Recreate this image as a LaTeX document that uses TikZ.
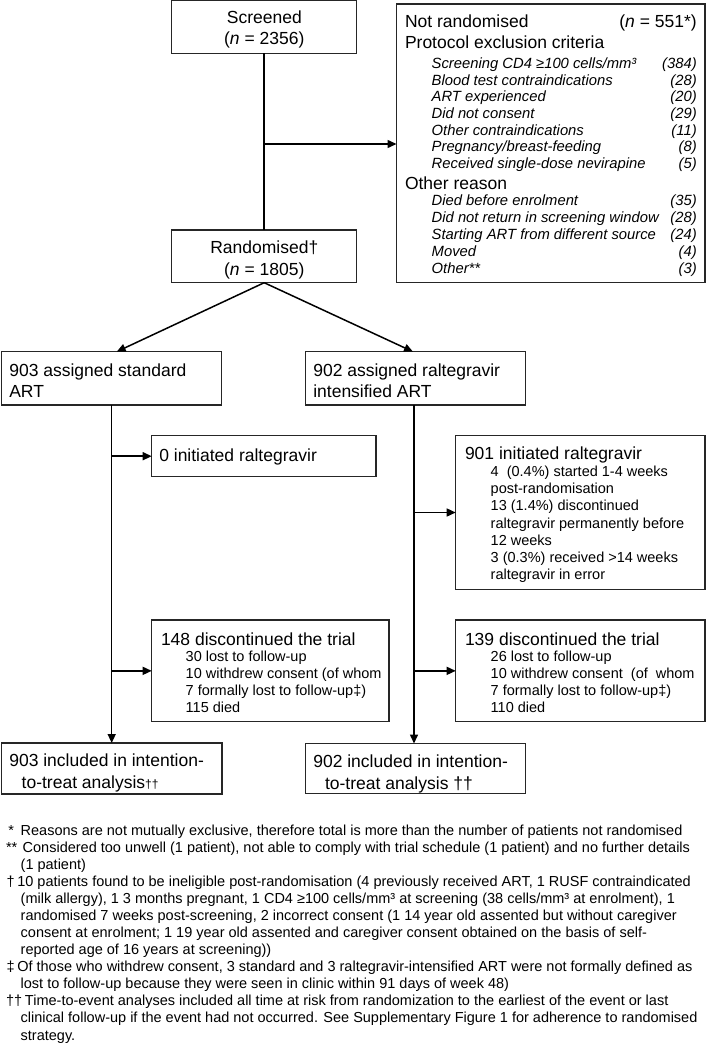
\documentclass[tikz,border=0pt]{standalone}
\usepackage{fontspec}
\setmainfont{Liberation Sans}
\usetikzlibrary{arrows.meta}
\newcommand\hdf{\fontsize{17.5}{21}\selectfont}
\newcommand\itf{\fontsize{14.8}{17}\selectfont\itshape}
\newcommand\sbf{\fontsize{14.5}{17}\selectfont}
\newcommand\ntf{\fontsize{14.5}{17}\selectfont}
\tikzset{
  box/.style={draw=black!85, line width=1.1pt, inner sep=0pt, outer sep=0pt, anchor=north west},
  txt/.style={inner sep=0pt, outer sep=0pt, anchor=base west},
  ln/.style={line width=1.5pt},
  arr/.style={line width=1.5pt, -{Triangle[length=9pt,width=8pt]}}
}
\begin{document}
\begin{tikzpicture}[x=1pt,y=-1pt]
\fill[white] (0,0) rectangle (706,1046);
\useasboundingbox (0,0) rectangle (706,1046);
% boxes
\node[box, minimum width=185pt, minimum height=52.6pt] (scr) at (171.7,0.7) {};
\node[box, minimum width=308.5pt, minimum height=278.7pt] (nr) at (396.5,4) {};
\node[box, minimum width=185pt, minimum height=52.7pt] (rnd) at (171.7,230) {};
\node[box, minimum width=219.8pt, minimum height=53.3pt] (asl) at (1.7,351.7) {};
\node[box, minimum width=219.8pt, minimum height=53.3pt] (asr) at (305.5,351.7) {};
\node[box, minimum width=224.3pt, minimum height=41pt] (zero) at (151.7,435.7) {};
\node[box, minimum width=249.3pt, minimum height=153.6pt] (ini) at (455.7,435.7) {};
\node[box, minimum width=237.3pt, minimum height=101.7pt] (dl) at (151.7,620) {};
\node[box, minimum width=249.3pt, minimum height=101.7pt] (dr) at (455.7,620) {};
\node[box, minimum width=220.3pt, minimum height=51pt] (itl) at (1.7,743) {};
\node[box, minimum width=220.2pt, minimum height=50pt] (itr) at (305.5,743.5) {};
% connectors
\coordinate (j1) at (264.3,144);
\coordinate (bl) at (116.7,351.7);
\coordinate (br) at (413,351.7);
\coordinate (lv) at (111.7,405);
\coordinate (rv) at (414,405);
\draw[ln] (scr.south) -- (rnd.north);
\draw[arr] (j1) -- (j1 -| nr.west);
\draw[arr] (rnd.south) -- (bl);
\draw[arr] (rnd.south) -- (br);
\draw[arr] (lv) -- (lv |- itl.north);
\draw[arr] (rv) -- (rv |- itr.north);
\draw[arr] (lv |- zero.west) -- (zero.west);
\draw[arr] (lv |- dl.west) -- (dl.west);
\draw[arr] (rv |- ini.west) -- (ini.west);
\draw[arr] (rv |- dr.west) -- (dr.west);
% top texts
\node[txt, anchor=base] (t1) at (264.3,23.3) {\hdf Screened};
\node[txt, anchor=base] (t2) at (264.3,45) {\hdf(\textit{n} = 2356)};
\node[txt, anchor=base] (t3) at (264.3,253.3) {\hdf Randomised†};
\node[txt, anchor=base] (t4) at (264.3,275) {\hdf(\textit{n} = 1805)};
% not randomised
\node[txt] (n1) at (405,27.3) {\hdf Not randomised};
\node[txt, anchor=base east] (n1r) at (696.7,27.3) {\hdf(\textit{n} = 551*)};
\node[txt] (n2) at (405,48.3) {\hdf Protocol exclusion criteria};
\node[txt] (i1) at (431.7,68.5) {\itf Screening CD4 ≥100 cells/mm³};
\node[txt] (i2) at (431.7,85.2) {\itf Blood test contraindications};
\node[txt] (i3) at (431.7,101.8) {\itf ART experienced};
\node[txt] (i4) at (431.7,118.5) {\itf Did not consent};
\node[txt] (i5) at (431.7,135.2) {\itf Other contraindications};
\node[txt] (i6) at (431.7,151.8) {\itf Pregnancy/breast-feeding};
\node[txt] (i7) at (431.7,168.5) {\itf Received single-dose nevirapine};
\node[txt, anchor=base east] (v1) at (696.7,68.5) {\itf(384)};
\node[txt, anchor=base east] (v2) at (696.7,85.2) {\itf(28)};
\node[txt, anchor=base east] (v3) at (696.7,101.8) {\itf(20)};
\node[txt, anchor=base east] (v4) at (696.7,118.5) {\itf(29)};
\node[txt, anchor=base east] (v5) at (696.7,135.2) {\itf(11)};
\node[txt, anchor=base east] (v6) at (696.7,151.8) {\itf(8)};
\node[txt, anchor=base east] (v7) at (696.7,168.5) {\itf(5)};
\node[txt] (n3) at (405,189) {\hdf Other reason};
\node[txt] (o1) at (431.7,205.3) {\itf Died before enrolment};
\node[txt] (o2) at (431.7,222.3) {\itf Did not return in screening window};
\node[txt] (o3) at (431.7,239.4) {\itf Starting ART from different source};
\node[txt] (o4) at (431.7,256.4) {\itf Moved};
\node[txt] (o5) at (431.7,273.5) {\itf Other**};
\node[txt, anchor=base east] (w1) at (696.7,205.3) {\itf(35)};
\node[txt, anchor=base east] (w2) at (696.7,222.3) {\itf(28)};
\node[txt, anchor=base east] (w3) at (696.7,239.4) {\itf(24)};
\node[txt, anchor=base east] (w4) at (696.7,256.4) {\itf(4)};
\node[txt, anchor=base east] (w5) at (696.7,273.5) {\itf(3)};
% arms
\node[txt] (a1) at (9.3,376) {\hdf 903 assigned standard};
\node[txt] (a2) at (9.3,397.5) {\hdf ART};
\node[txt] (b1) at (313.3,376) {\hdf 902 assigned raltegravir};
\node[txt] (b2) at (313.3,397.5) {\hdf intensified ART};
\node[txt] (z1) at (159.3,461) {\hdf 0 initiated raltegravir};
\node[txt] (r0) at (465,459) {\hdf 901 initiated raltegravir};
\node[txt] (r1) at (490.7,476.5) {\sbf 4 \ (0.4\%) started 1-4 weeks};
\node[txt] (r2) at (490.7,493.7) {\sbf post-randomisation};
\node[txt] (r3) at (490.7,510.9) {\sbf 13 (1.4\%) discontinued};
\node[txt] (r4) at (490.7,528.1) {\sbf raltegravir permanently before};
\node[txt] (r5) at (490.7,545.3) {\sbf 12 weeks};
\node[txt] (r6) at (490.7,562.5) {\sbf 3 (0.3\%) received >14 weeks};
\node[txt] (r7) at (490.7,579.7) {\sbf raltegravir in error};
\node[txt] (d0) at (161,645) {\hdf 148 discontinued the trial};
\node[txt] (d1) at (185.7,661.7) {\sbf 30 lost to follow-up};
\node[txt] (d2) at (185.7,678.5) {\sbf 10 withdrew consent (of whom};
\node[txt] (d3) at (185.7,695.3) {\sbf 7 formally lost to follow-up‡)};
\node[txt] (d4) at (185.7,712.1) {\sbf 115 died};
\node[txt] (e0) at (465,645) {\hdf 139 discontinued the trial};
\node[txt] (e1) at (490.7,661.7) {\sbf 26 lost to follow-up};
\node[txt] (e2) at (490.7,678.5) {\sbf 10 withdrew consent \ (of \ whom};
\node[txt] (e3) at (490.7,695.3) {\sbf 7 formally lost to follow-up‡)};
\node[txt] (e4) at (490.7,712.1) {\sbf 110 died};
\node[txt] (l1) at (9.3,766.7) {\hdf 903 included in intention-};
\node[txt] (l2) at (21.7,788.3) {\hdf to-treat analysis{\fontsize{12}{12}\selectfont ††}};
\node[txt] (m1) at (313.3,767.3) {\hdf 902 included in intention-};
\node[txt] (m2) at (325,789.3) {\hdf to-treat analysis ††};
% footnotes
\node[txt] (f1) at (8.3,835) {\ntf\makebox[12.4pt][l]{*}Reasons are not mutually exclusive, therefore total is more than the number of patients not randomised};
\node[txt] (f2) at (6,852.1) {\ntf\makebox[16.7pt][l]{**}Considered too unwell (1 patient), not able to comply with trial schedule (1 patient) and no further details};
\node[txt] (f3) at (20.7,869.2) {\ntf (1 patient)};
\node[txt] (f4) at (6.7,886.2) {\ntf\makebox[10.6pt][l]{†}10 patients found to be ineligible post-randomisation (4 previously received ART, 1 RUSF contraindicated};
\node[txt] (f5) at (20.7,903.3) {\ntf (milk allergy), 1 3 months pregnant, 1 CD4 ≥100 cells/mm³ at screening (38 cells/mm³ at enrolment), 1};
\node[txt] (f6) at (20.7,920.4) {\ntf randomised 7 weeks post-screening, 2 incorrect consent (1 14 year old assented but without caregiver};
\node[txt] (f7) at (20.7,937.5) {\ntf consent at enrolment; 1 19 year old assented and caregiver consent obtained on the basis of self-};
\node[txt] (f8) at (20.7,954.6) {\ntf reported age of 16 years at screening))};
\node[txt] (f9) at (6.7,971.6) {\ntf\makebox[10.6pt][l]{‡}Of those who withdrew consent, 3 standard and 3 raltegravir-intensified ART were not formally defined as};
\node[txt] (f10) at (20.7,988.7) {\ntf lost to follow-up because they were seen in clinic within 91 days of week 48)};
\node[txt] (f11) at (6,1005.8) {\ntf\makebox[19pt][l]{††}Time-to-event analyses included all time at risk from randomization to the earliest of the event or last};
\node[txt] (f12) at (20.7,1022.9) {\ntf clinical follow-up if the event had not occurred. See Supplementary Figure 1 for adherence to randomised};
\node[txt] (f13) at (20.7,1040) {\ntf strategy.};
\end{tikzpicture}
\end{document}
